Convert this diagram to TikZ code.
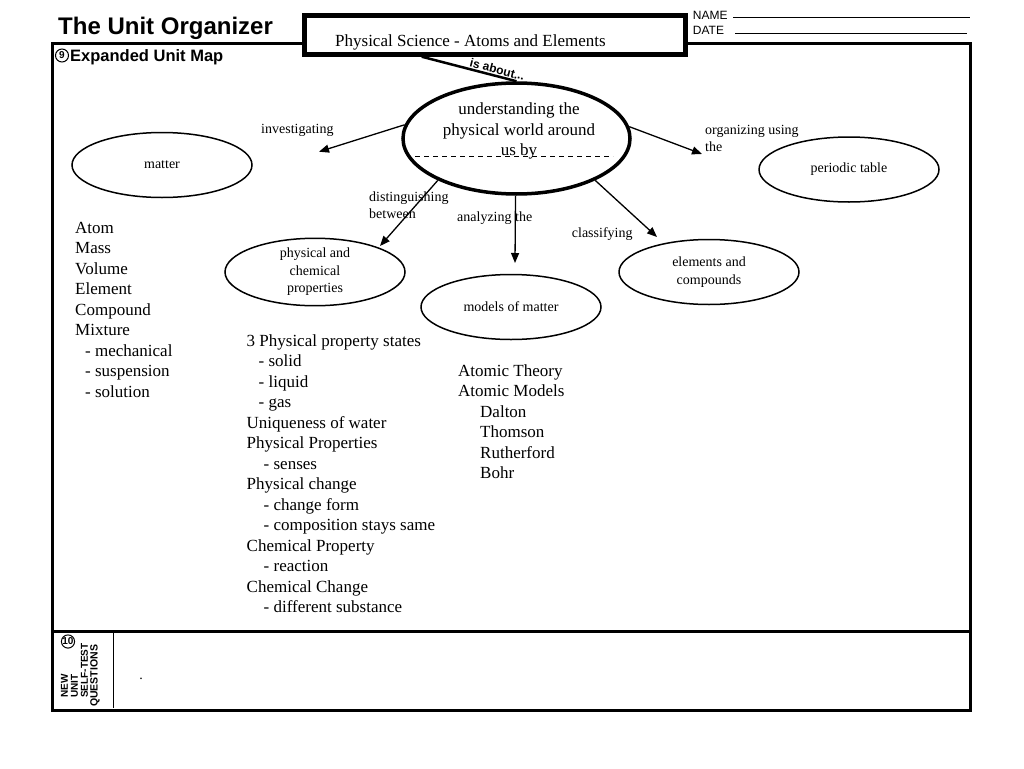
\documentclass[tikz,border=0pt]{standalone}
\usepackage{fontspec}
\setmainfont{Liberation Serif}
\setsansfont{Liberation Sans}
\usetikzlibrary{arrows.meta,shapes.geometric}

\begin{document}
\begin{tikzpicture}[x=1pt,y=-1pt,
bubble/.style={draw,ellipse,line width=1.5pt,minimum width=180pt,minimum height=65pt,inner sep=0pt,align=center,font=\fontsize{14}{17.5}\selectfont},
link/.style={-{Stealth[length=10pt,width=8pt,inset=0pt]},line width=1.3pt},
lbl/.style={anchor=north west,inner sep=0pt,align=left,font=\fontsize{14}{16.5}\selectfont},
lst/.style={anchor=north west,inner sep=0pt,align=left,font=\fontsize{17}{20.5}\selectfont},
num/.style={draw,circle,line width=1pt,minimum size=13pt,inner sep=0pt,font=\sffamily\bfseries\fontsize{10}{10}\selectfont}]
\useasboundingbox (0,0) rectangle (1024,768);
% frame and header
\draw[line width=3pt] (52,43.5) rectangle (970,710.3);
\draw[line width=3pt] (52,631.3) -- (970,631.3);
\draw[line width=1pt] (113.7,632) -- (113.7,708);
\node[anchor=base west,inner sep=0pt,font=\sffamily\bfseries\fontsize{24}{28}\selectfont] (title) at (58,35) {The Unit Organizer};
\draw[line width=5pt,fill=white] (304.7,15.8) rectangle (685.5,54.2);
\node[anchor=base west,inner sep=0pt,font=\fontsize{17}{20}\selectfont] (unit) at (335,46.7) {Physical Science - Atoms and Elements};
\node[anchor=base west,inner sep=0pt,font=\sffamily\fontsize{12}{14}\selectfont] (name) at (692.7,20) {NAME};
\node[anchor=base west,inner sep=0pt,font=\sffamily\fontsize{12}{14}\selectfont] (date) at (692.7,35) {DATE};
\draw[line width=1pt] (733,17.3) -- (970,17.3);
\draw[line width=1pt] (735,34) -- (967,34);
\node[num] (nine) at (62,55.5) {9};
\node[anchor=base west,inner sep=0pt,font=\sffamily\bfseries\fontsize{16.5}{18}\selectfont] (map) at (70,61.5) {Expanded Unit Map};

% the map
\node[draw,ellipse,line width=3.5pt,minimum width=227pt,minimum height=111pt] (core) at (516.5,138.5) {};
\node[inner sep=0pt,anchor=north,align=center,font=\fontsize{17}{20.6}\selectfont] (coretext) at (519,102.7) {understanding the\\physical world around\\us by};
\draw[dashed,dash pattern=on 5pt off 4pt,line width=1pt] (415,156) -- (613,156);
\coordinate (topic) at (421.7,56.7);
\draw[line width=2.5pt] (topic) -- node[sloped,above,pos=0.78,inner sep=1pt,font=\sffamily\bfseries\fontsize{12}{12}\selectfont] {is about...} (core.north);

\node[bubble] (matter) at (162,165) {matter};
\node[bubble] (table) at (849,169.5) {periodic table};
\node[bubble,minimum height=67pt] (props) at (315,272) {physical and\\chemical\\properties};
\node[bubble] (models) at (511,307) {models of matter};
\node[bubble] (elem) at (709,272) {elements and\\compounds};

\coordinate (inv) at (319,151.7);
\coordinate (org) at (702,154);
\coordinate (dist) at (380,246);
\coordinate (anl) at (515,263);
\coordinate (cls) at (657,237);
\draw[link] (core.173) -- (inv);
\draw[link] (core.6) -- (org);
\draw[link] (core.208) -- (dist);
\draw[link] (core.269) -- (anl);
\draw[link] (core.332) -- (cls);
\node[lbl] at (261,123.7) {investigating};
\node[lbl] at (705,125.4) {organizing using\\the};
\node[lbl] at (369,192) {distinguishing\\between};
\node[lbl] at (457,211.5) {analyzing the};
\node[lbl] at (571.7,227) {classifying};

% lists under the bubbles
\node[lst] (words) at (75,221.8) {Atom\\Mass\\Volume\\Element\\Compound\\Mixture\\
\hspace*{10pt}- mechanical\\\hspace*{10pt}- suspension\\\hspace*{10pt}- solution};
\node[lst] (facts) at (246.5,334.4) {3 Physical property states\\\hspace*{12pt}- solid\\\hspace*{12pt}- liquid\\\hspace*{12pt}- gas\\
Uniqueness of water\\Physical Properties\\\hspace*{17pt}- senses\\Physical change\\\hspace*{17pt}- change form\\
\hspace*{17pt}- composition stays same\\Chemical Property\\\hspace*{17pt}- reaction\\Chemical Change\\\hspace*{17pt}- different substance};
\node[lst] (theory) at (458,364) {Atomic Theory\\Atomic Models\\\hspace*{22pt}Dalton\\\hspace*{22pt}Thomson\\\hspace*{22pt}Rutherford\\\hspace*{22pt}Bohr};

% self-test strip
\node[num] (ten) at (68,641.5) {10};
\node[rotate=90,anchor=west,inner sep=0pt,font=\sffamily\bfseries\fontsize{10}{10}\selectfont] at (64.5,698) {NEW};
\node[rotate=90,anchor=west,inner sep=0pt,font=\sffamily\bfseries\fontsize{10}{10}\selectfont] at (74.5,698) {UNIT};
\node[rotate=90,anchor=west,inner sep=0pt,font=\sffamily\bfseries\fontsize{10}{10}\selectfont] at (84.5,698) {SELF-TEST};
\node[rotate=90,anchor=west,inner sep=0pt,font=\sffamily\bfseries\fontsize{10.5}{10}\selectfont] at (95,707) {QUESTIONS};
\node[inner sep=0pt,font=\fontsize{14}{14}\selectfont] (dot) at (141,679) {.};
\end{tikzpicture}
\end{document}
